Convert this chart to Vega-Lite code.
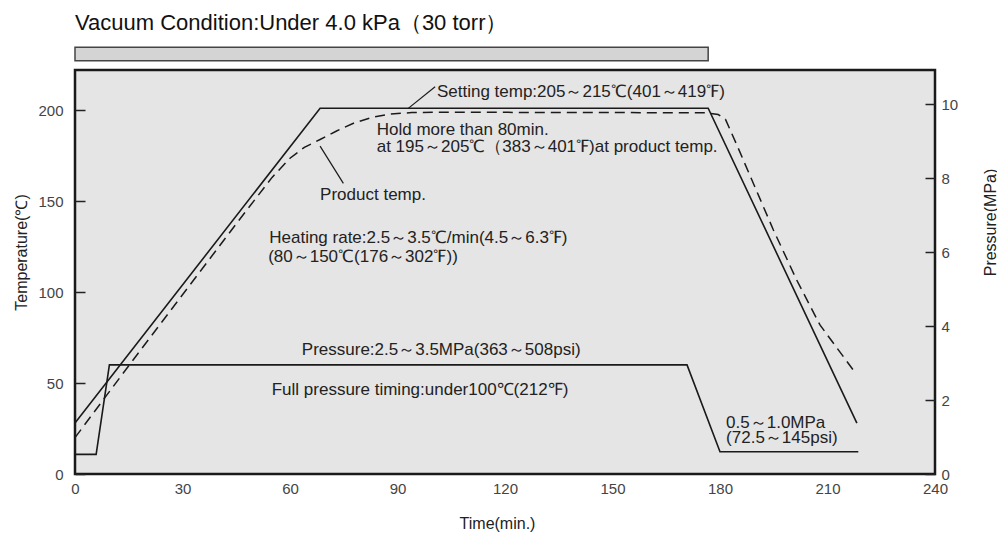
{
  "$schema": "https://vega.github.io/schema/vega-lite/v6.json",
  "autosize": "none",
  "width": 860,
  "height": 404,
  "padding": {"left": 75, "top": 70, "right": 62, "bottom": 63},
  "background": "white",
  "title": {"text": "Vacuum Condition:Under 4.0 kPa（30 torr）", "anchor": "start", "frame": "group", "fontSize": 22, "font": "Liberation Sans", "fontWeight": "normal", "color": "#111", "offset": 12},
  "config": {"view": {"fill": "#e5e5e5", "stroke": "#1a1a1a", "strokeWidth": 2.5}, "font": "Liberation Sans"},
  "datasets": {
    "setting": [{"t": 0, "v": 28}, {"t": 68.4, "v": 201}, {"t": 176.7, "v": 201}, {"t": 218.2, "v": 28}],
    "product": [{"t": 0, "v": 20}, {"t": 15, "v": 59.5}, {"t": 30, "v": 98.5}, {"t": 45, "v": 137.5}, {"t": 55, "v": 163}, {"t": 60, "v": 173.5}, {"t": 64, "v": 179.5}, {"t": 68.4, "v": 183.8}, {"t": 73, "v": 188.5}, {"t": 78, "v": 193}, {"t": 83, "v": 196}, {"t": 88, "v": 197.8}, {"t": 94, "v": 198.6}, {"t": 100, "v": 198.8}, {"t": 176, "v": 198.5}, {"t": 179.5, "v": 197.5}, {"t": 181.5, "v": 195}, {"t": 184.7, "v": 180.8}, {"t": 194.9, "v": 134.1}, {"t": 201.4, "v": 106.6}, {"t": 207.9, "v": 81.9}, {"t": 217.2, "v": 57.1}],
    "pressure": [{"t": 0, "p": 0.53}, {"t": 5.9, "p": 0.53}, {"t": 9.6, "p": 2.95}, {"t": 170.8, "p": 2.95}, {"t": 180, "p": 0.6}, {"t": 218.6, "p": 0.6}],
    "vacuum": [{"t": 0, "t2": 176.7}],
    "arrows": [{"t": 100.5, "v": 212.8, "t2": 93.0, "v2": 200.9}, {"t": 74.9, "v": 159.7, "t2": 68.4, "v2": 180.2}],
    "notes": [
      {"t": 101.0, "v": 207.4, "label": "Setting temp:205～215℃(401～419℉)"},
      {"t": 84.2, "v": 186.5, "label": "Hold more than 80min."},
      {"t": 84.2, "v": 177.1, "label": "at 195～205℃（383～401℉)at product temp."},
      {"t": 68.4, "v": 150.5, "label": "Product temp."},
      {"t": 54.2, "v": 126.8, "label": "Heating rate:2.5～3.5℃/min(4.5～6.3℉)"},
      {"t": 53.9, "v": 116.7, "label": "(80～150℃(176～302℉))"},
      {"t": 63.3, "v": 65.4, "label": "Pressure:2.5～3.5MPa(363～508psi)"},
      {"t": 54.9, "v": 43.4, "label": "Full pressure timing:under100℃(212℉)"},
      {"t": 181.7, "v": 25.1, "label": "0.5～1.0MPa"},
      {"t": 181.7, "v": 16.9, "label": "(72.5～145psi)"}
    ]
  },
  "layer": [
    {
      "encoding": {
        "x": {"field": "t", "type": "quantitative", "scale": {"domain": [0, 240], "nice": false, "zero": false},
              "axis": {"values": [0, 30, 60, 90, 120, 150, 180, 210, 240], "ticks": false, "domain": false, "grid": false, "labelFlush": false, "labelOverlap": false, "labelPadding": 7, "labelFontSize": 15, "labelColor": "#444", "title": "Time(min.)", "titleFontSize": 16, "titleFontWeight": "normal", "titleColor": "#222", "titleX": 422, "titleY": 49, "titleAlign": "center", "titleBaseline": "middle"}}
      },
      "layer": [
        {"data": {"name": "vacuum"}, "mark": {"type": "rect", "fill": "#d4d4d4", "stroke": "#444", "strokeWidth": 1.5, "clip": false},
         "encoding": {"x2": {"field": "t2"},
                      "y": {"datum": 227.1, "type": "quantitative", "scale": {"domain": [0, 222], "nice": false}},
                      "y2": {"datum": 234.5}}},
        {"data": {"name": "setting"}, "mark": {"type": "line", "color": "#1a1a1a", "strokeWidth": 1.6},
         "encoding": {"y": {"field": "v", "type": "quantitative", "scale": {"domain": [0, 222], "nice": false},
              "axis": {"orient": "left", "values": [0, 50, 100, 150, 200], "tickSize": -10, "tickColor": "#222", "tickWidth": 1.5, "labelPadding": 22, "labelFontSize": 15, "labelColor": "#444", "labelFlush": false, "domain": false, "grid": false, "title": "Temperature(℃)", "titleFontSize": 16, "titleFontWeight": "normal", "titleColor": "#222", "titleAngle": 270, "titleX": -54, "titleY": 182, "titleAlign": "center", "titleBaseline": "middle"}}}},
        {"data": {"name": "product"}, "mark": {"type": "line", "color": "#1a1a1a", "strokeWidth": 1.5, "strokeDash": [10, 6]},
         "encoding": {"y": {"field": "v", "type": "quantitative", "scale": {"domain": [0, 222], "nice": false}}}},
        {"data": {"name": "arrows"}, "mark": {"type": "rule", "color": "#1a1a1a", "strokeWidth": 1.2},
         "encoding": {"y": {"field": "v", "type": "quantitative", "scale": {"domain": [0, 222], "nice": false}}, "x2": {"field": "t2"}, "y2": {"field": "v2"}}},
        {"data": {"name": "notes"}, "mark": {"type": "text", "align": "left", "baseline": "alphabetic", "fontSize": 17, "color": "#222", "font": "Liberation Sans"},
         "encoding": {"y": {"field": "v", "type": "quantitative", "scale": {"domain": [0, 222], "nice": false}}, "text": {"field": "label"}}}
      ]
    },
    {
      "data": {"name": "pressure"},
      "mark": {"type": "line", "color": "#1a1a1a", "strokeWidth": 1.6},
      "encoding": {
        "x": {"field": "t", "type": "quantitative", "scale": {"domain": [0, 240], "nice": false, "zero": false},
              "axis": {"values": [0, 30, 60, 90, 120, 150, 180, 210, 240], "ticks": false, "domain": false, "grid": false, "labelFlush": false, "labelOverlap": false, "labelPadding": 7, "labelFontSize": 15, "labelColor": "#444", "title": "Time(min.)", "titleFontSize": 16, "titleFontWeight": "normal", "titleColor": "#222", "titleX": 422, "titleY": 49, "titleAlign": "center", "titleBaseline": "middle"}},
        "y": {"field": "p", "type": "quantitative", "scale": {"domain": [0, 10.92], "nice": false},
              "axis": {"orient": "right", "values": [0, 2, 4, 6, 8, 10], "tickSize": -10, "tickColor": "#222", "tickWidth": 1.5, "labelPadding": 16, "labelFontSize": 15, "labelColor": "#444", "labelFlush": false, "domain": false, "grid": false, "title": "Pressure(MPa)", "titleFontSize": 16, "titleFontWeight": "normal", "titleColor": "#222", "titleAngle": 270, "titleX": 55, "titleY": 152, "titleAlign": "center", "titleBaseline": "middle"}}
      }
    }
  ],
  "resolve": {"scale": {"y": "independent"}}
}
